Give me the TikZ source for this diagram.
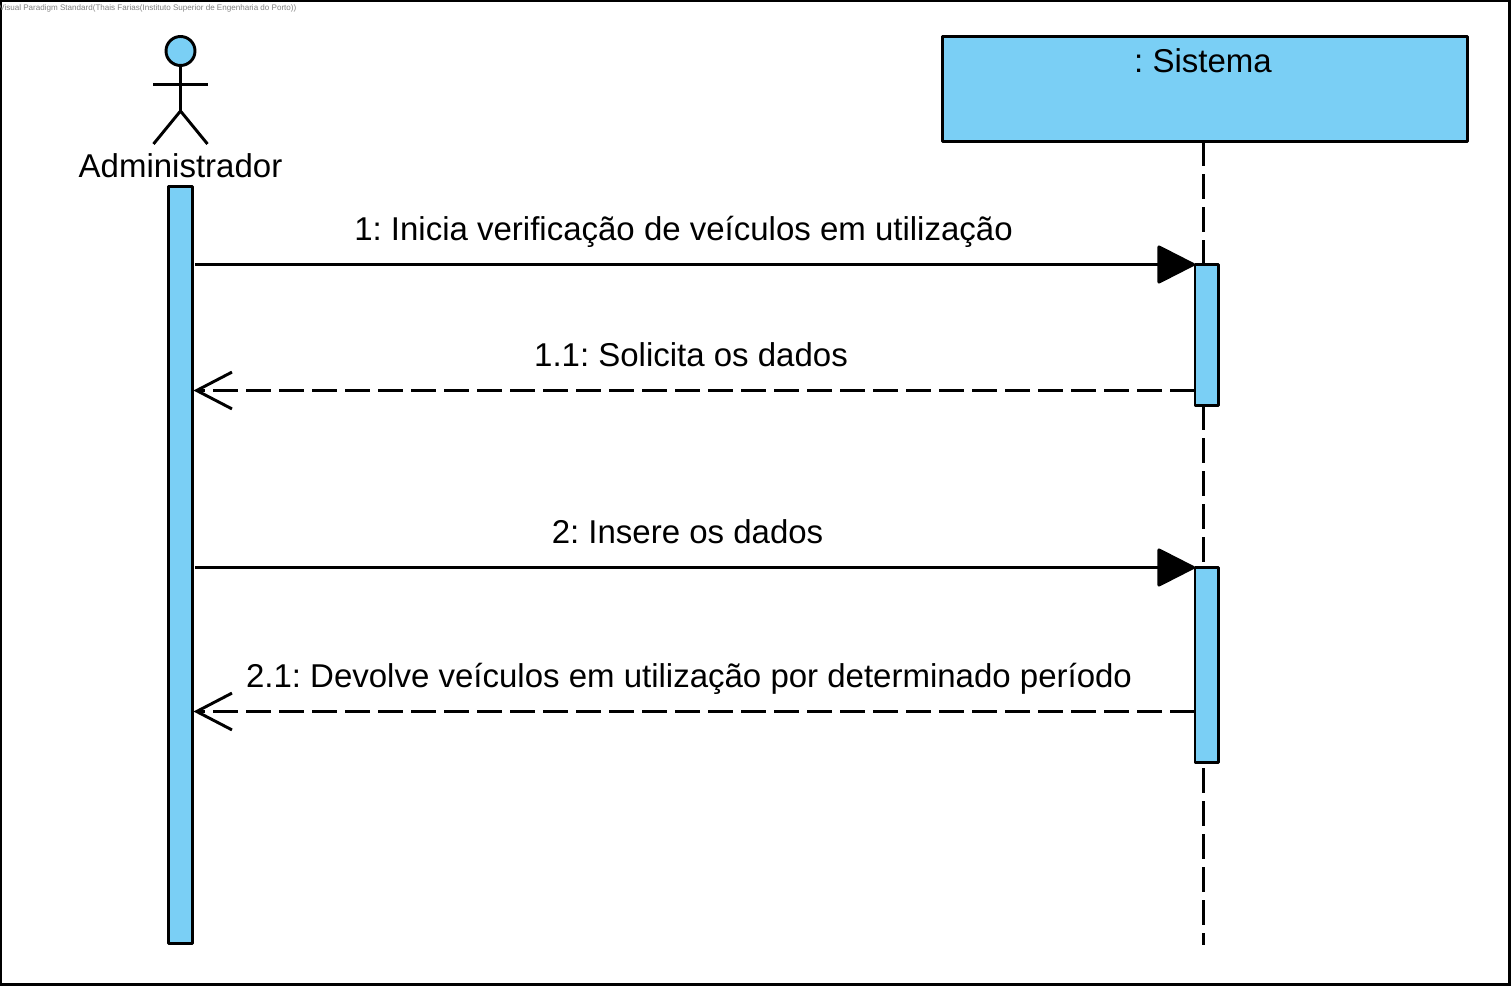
\documentclass[tikz,border=0pt]{standalone}
\usepackage{fontspec}
\setmainfont{Liberation Sans}
\usetikzlibrary{arrows.meta}
\definecolor{fillblue}{HTML}{7ACFF5}
\frenchspacing
\tikzset{
  x=0.75pt, y=-0.75pt,
  stroke/.style={line width=2.2pt, black},
  lifebox/.style={draw, stroke, fill=fillblue, rectangle, inner sep=0pt, outer sep=0pt, line join=round},
  bar/.style={lifebox, minimum width=23.5*0.75pt},
  label/.style={font=\fontsize{24.75pt}{28pt}\selectfont, anchor=base, inner sep=0pt, text=black},
  lifeline/.style={stroke, dash pattern=on 18.4pt off 6.35pt},
  syncmsg/.style={stroke, -{Triangle[length=29.5pt,width=29.5pt,round]}},
  replymsg/.style={stroke, dash pattern=on 18.4pt off 6.35pt, -{Straight Barb[length=26.5pt,width=27pt,angle'=55,line width=2.2pt]}}
}
\begin{document}
\begin{tikzpicture}
\useasboundingbox (0,0) rectangle (1512,987);
\node[draw, stroke, rectangle, inner sep=0pt, outer sep=0pt, minimum width=1508.5*0.75pt, minimum height=983.5*0.75pt, anchor=north west] (frame) at (1,1) {};
\node[anchor=base west, inner sep=0pt, text=gray, font=\fontsize{6.05pt}{7pt}\selectfont] (wm) at (-1,11) {Visual Paradigm Standard(Thais Farias(Instituto Superior de Engenharia do Porto))};

% actor
\node[draw, stroke, circle, fill=fillblue, inner sep=0pt, outer sep=0pt, minimum size=29*0.75pt] (head) at (180.5,51) {};
\coordinate (hip) at (180.5,111);
\coordinate (armL) at (153,84.5);
\coordinate (armR) at (208,84.5);
\coordinate (legL) at (153.5,144);
\coordinate (legR) at (207.5,144);
\draw[stroke] (head.south) -- (hip);
\draw[stroke] (armL) -- (armR);
\draw[stroke] (legL) -- (hip) -- (legR);
\node[label] (actorname) at (180.5,177.5) {Administrador};

% system head
\node[lifebox, minimum width=525*0.75pt, minimum height=104.5*0.75pt, anchor=north west] (sys) at (942.5,36.8) {};
\node[label] (sysname) at (1203,72.5) {: Sistema};

% coordinates
\coordinate (m1) at (0,264.5);
\coordinate (m2) at (0,390.5);
\coordinate (m3) at (0,567.5);
\coordinate (m4) at (0,711.5);
\coordinate (lifeend) at (1203.4,945);

% lifeline
\draw[lifeline] (1203.4,141.3) -- (lifeend);

% bars
\node[bar, minimum height=756.5*0.75pt, anchor=north] (adminbar) at (180.7,186.7) {};
\node[bar, minimum height=140.5*0.75pt, anchor=north] (sysbarA) at (1206.7,264.7) {};
\node[bar, minimum height=195*0.75pt, anchor=north] (sysbarB) at (1206.7,567.5) {};

% messages
\draw[syncmsg] ([xshift=2.2pt]adminbar.east |- m1) -- (sysbarA.west |- m1);
\draw[replymsg] (sysbarA.west |- m2) -- ([xshift=0.75pt]adminbar.east |- m2);
\draw[syncmsg] ([xshift=2.2pt]adminbar.east |- m3) -- (sysbarB.west |- m3);
\draw[replymsg] (sysbarB.west |- m4) -- ([xshift=0.75pt]adminbar.east |- m4);

% labels
\node[label] (l1) at (683.5,240.5) {1: Inicia verificação de veículos em utilização};
\node[label] (l2) at (691,366) {1.1: Solicita os dados};
\node[label] (l3) at (687.5,543) {2: Insere os dados};
\node[label] (l4) at (689,687) {2.1: Devolve veículos em utilização por determinado período};
\end{tikzpicture}
\end{document}
